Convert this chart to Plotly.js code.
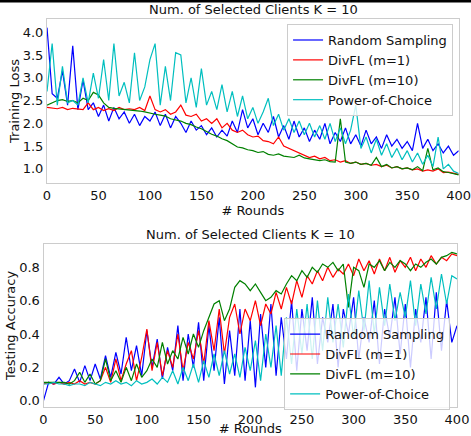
<!DOCTYPE html>
<html>
<head>
<meta charset="utf-8">
<script src="https://cdn.plot.ly/plotly-3.0.1.min.js"></script>
<style>html,body{margin:0;padding:0;background:#fff}#chart{width:471px;height:436px}</style>
</head>
<body>
<div id="chart"></div>
<script>
const rounds = [0,5,10,15,20,25,30,35,40,45,50,55,60,65,70,75,80,85,90,95,100,105,110,115,120,125,130,135,140,145,150,155,160,165,170,175,180,185,190,195,200,205,210,215,220,225,230,235,240,245,250,255,260,265,270,275,280,285,290,295,300,305,310,315,320,325,330,335,340,345,350,355,360,365,370,375,380,385,390,395,400];

const seriesNames = ["Random Sampling", "DivFL (m=1)", "DivFL (m=10)", "Power-of-Choice"];
const titleText = "Num. of Selected Clients K = 10";

// Training loss
const lossRandom = [4.10,2.65,2.55,3.15,2.40,3.70,2.30,2.95,2.30,2.45,2.15,2.40,2.05,2.35,2.10,2.25,2.00,2.20,1.95,2.15,2.05,2.25,1.95,2.20,1.90,2.15,2.00,1.80,2.05,1.85,1.95,1.75,1.90,1.70,1.85,1.72,2.05,1.80,2.30,1.90,2.10,1.75,2.00,1.80,2.15,1.70,1.95,1.65,2.05,1.70,1.90,1.60,1.85,1.65,2.00,1.55,1.80,1.60,1.90,1.55,1.75,1.50,1.85,1.55,1.70,1.45,1.75,1.50,1.65,1.45,1.60,1.40,2.00,1.45,1.65,1.40,1.55,1.35,1.50,1.30,1.40];
const lossDivFL1 = [2.35,2.33,2.32,2.35,2.30,2.33,2.32,2.30,2.45,2.30,2.35,2.28,2.32,2.28,2.35,2.30,2.32,2.30,2.35,2.28,2.60,2.30,2.25,2.30,2.20,2.25,2.40,2.18,2.15,2.20,2.05,2.10,2.00,2.10,1.90,2.00,1.85,1.80,1.85,1.75,1.70,1.72,1.62,1.60,1.55,1.70,1.50,1.45,1.40,1.35,1.30,1.25,1.28,1.22,1.25,1.18,1.20,1.15,1.18,1.12,1.15,1.10,1.12,1.08,1.10,1.05,1.08,1.02,1.05,1.00,1.02,0.98,1.00,0.95,0.98,0.95,1.00,0.92,0.93,0.90,0.88];
const lossDivFL10 = [2.40,2.45,2.50,2.52,2.48,2.50,2.45,2.55,2.50,2.68,2.62,2.45,2.35,2.33,2.32,2.30,2.30,2.28,2.27,2.25,2.22,2.20,2.18,2.16,2.10,2.08,2.05,2.00,1.97,1.92,1.88,1.82,1.76,1.72,1.66,1.62,1.55,1.48,1.46,1.42,1.40,1.36,1.38,1.32,1.30,1.33,1.28,1.27,1.25,1.30,1.24,1.22,1.20,1.18,1.20,1.16,1.15,2.10,1.15,1.12,1.15,1.10,1.12,1.08,1.25,1.05,1.10,1.02,1.05,1.00,1.02,0.98,1.05,0.96,1.45,0.98,1.02,0.94,0.92,0.90,0.87];
const lossPoC = [2.70,3.75,2.40,3.25,2.45,2.50,2.40,3.00,2.45,3.10,2.55,3.40,2.50,3.75,2.60,2.90,2.45,3.55,2.50,2.80,3.40,3.75,2.40,3.25,2.50,3.55,3.50,2.45,3.00,2.35,3.20,2.40,2.70,2.30,2.85,2.25,2.70,2.15,2.60,2.10,2.35,2.00,2.25,2.55,1.95,2.20,1.85,2.10,1.80,2.05,1.75,2.00,1.70,1.95,1.65,2.00,1.60,1.90,1.55,1.85,2.40,1.45,1.70,1.35,1.65,1.30,1.55,1.25,1.45,1.20,1.40,1.15,1.35,1.10,1.30,1.05,1.70,1.00,1.10,0.95,0.90];

// Testing accuracy
const accRandom = [0.00,0.11,0.10,0.14,0.10,0.12,0.19,0.11,0.21,0.12,0.22,0.13,0.27,0.14,0.29,0.16,0.38,0.18,0.33,0.15,0.42,0.20,0.37,0.13,0.32,0.18,0.45,0.12,0.40,0.20,0.47,0.12,0.45,0.18,0.50,0.10,0.42,0.15,0.55,0.12,0.48,0.08,0.52,0.20,0.58,0.15,0.50,0.25,0.60,0.18,0.55,0.30,0.62,0.22,0.50,0.35,0.58,0.20,0.55,0.40,0.62,0.25,0.50,0.35,0.60,0.22,0.55,0.38,0.62,0.28,0.58,0.20,0.55,0.35,0.62,0.25,0.65,0.30,0.60,0.35,0.45];
const accDivFL1 = [0.10,0.11,0.10,0.11,0.10,0.11,0.10,0.12,0.10,0.11,0.10,0.12,0.20,0.11,0.25,0.12,0.22,0.30,0.12,0.26,0.43,0.18,0.35,0.15,0.30,0.20,0.40,0.18,0.35,0.25,0.42,0.22,0.48,0.30,0.55,0.28,0.50,0.58,0.40,0.55,0.48,0.60,0.45,0.58,0.52,0.65,0.55,0.68,0.58,0.72,0.62,0.75,0.70,0.78,0.72,0.80,0.74,0.79,0.76,0.82,0.75,0.85,0.78,0.84,0.76,0.85,0.78,0.86,0.77,0.84,0.80,0.86,0.78,0.85,0.80,0.87,0.82,0.86,0.84,0.88,0.87];
const accDivFL10 = [0.11,0.11,0.11,0.11,0.11,0.10,0.12,0.17,0.11,0.16,0.10,0.12,0.25,0.12,0.18,0.11,0.20,0.12,0.22,0.14,0.18,0.25,0.20,0.35,0.22,0.30,0.25,0.38,0.28,0.40,0.32,0.42,0.50,0.58,0.60,0.48,0.55,0.68,0.72,0.70,0.66,0.70,0.65,0.60,0.62,0.66,0.64,0.70,0.75,0.72,0.78,0.74,0.80,0.77,0.82,0.80,0.83,0.78,0.82,0.56,0.80,0.78,0.68,0.82,0.80,0.84,0.78,0.83,0.80,0.84,0.82,0.78,0.82,0.80,0.83,0.85,0.82,0.86,0.87,0.89,0.88];
const accPoC = [0.10,0.10,0.11,0.10,0.10,0.09,0.10,0.10,0.09,0.11,0.10,0.09,0.11,0.10,0.12,0.10,0.11,0.09,0.12,0.10,0.11,0.13,0.10,0.14,0.11,0.18,0.10,0.20,0.12,0.22,0.11,0.24,0.14,0.28,0.15,0.30,0.16,0.28,0.14,0.32,0.18,0.36,0.12,0.40,0.20,0.45,0.15,0.50,0.22,0.55,0.28,0.58,0.25,0.60,0.30,0.62,0.35,0.58,0.32,0.64,0.38,0.66,0.42,0.72,0.40,0.68,0.45,0.70,0.48,0.65,0.50,0.72,0.45,0.70,0.52,0.74,0.55,0.76,0.58,0.75,0.73];

const colors = ["#0000ff", "#ff0000", "#008000", "#00bfbf"];
const lossSeries = [lossRandom, lossDivFL1, lossDivFL10, lossPoC];
const accSeries = [accRandom, accDivFL1, accDivFL10, accPoC];

const FONT = "DejaVu Sans, sans-serif";
const TXT = "#111";
const traces = [];
lossSeries.forEach((ys, i) => traces.push({
  x: rounds, y: ys, type: "scatter", mode: "lines", name: seriesNames[i],
  line: {color: colors[i], width: 1.2}, xaxis: "x", yaxis: "y", legend: "legend"
}));
accSeries.forEach((ys, i) => traces.push({
  x: rounds, y: ys, type: "scatter", mode: "lines", name: seriesNames[i],
  line: {color: colors[i], width: 1.2}, xaxis: "x2", yaxis: "y2", legend: "legend2"
}));

const axisCommon = {
  showgrid: false, zeroline: false, showline: true, mirror: true,
  linecolor: "#cccccc", linewidth: 1, ticks: "", ticklabeloverflow: "allow",
  tickfont: {family: FONT, size: 13, color: TXT}
};
const legendCommon = {
  bgcolor: "rgba(255,255,255,0.8)", bordercolor: "#cccccc", borderwidth: 1,
  font: {family: FONT, size: 13, color: TXT}, xanchor: "right", yanchor: "top",
  tracegroupgap: 0
};

const layout = {
  width: 471, height: 436,
  margin: {l: 43, r: 10, t: 19, b: 29},
  paper_bgcolor: "#fff", plot_bgcolor: "#fff",
  font: {family: FONT, size: 13, color: TXT},
  showlegend: true,
  xaxis: Object.assign({}, axisCommon, {domain: [0.0096, 0.9945], range: [0, 400], anchor: "y",
    tickvals: [0,50,100,150,200,250,300,350,400],
    title: {text: "# Rounds", font: {family: FONT, size: 13, color: TXT}, standoff: 0}}),
  yaxis: Object.assign({}, axisCommon, {domain: [0.5773, 1], range: [0.69, 4.29], anchor: "x",
    tickvals: [1.0,1.5,2.0,2.5,3.0,3.5,4.0], tickformat: ".1f",
    title: {text: "Training Loss", font: {family: FONT, size: 13, color: TXT}, standoff: 0}}),
  xaxis2: Object.assign({}, axisCommon, {domain: [0.0012, 0.9904], range: [0, 400], anchor: "y2",
    tickvals: [0,50,100,150,200,250,300,350,400],
    title: {text: "# Rounds", font: {family: FONT, size: 13, color: TXT}, standoff: 0}}),
  yaxis2: Object.assign({}, axisCommon, {domain: [0, 0.4201], range: [-0.038, 0.94], anchor: "x2",
    tickvals: [0.0,0.2,0.4,0.6,0.8], tickformat: ".1f",
    title: {text: "Testing Accuracy", font: {family: FONT, size: 13, color: TXT}, standoff: 0}}),
  legend: Object.assign({}, legendCommon, {x: 0.981, y: 0.987}),
  legend2: Object.assign({}, legendCommon, {x: 0.974, y: 0.229}),
  annotations: [
    {text: titleText, xref: "paper", yref: "paper", x: 0.5036, y: 1, xanchor: "center", yanchor: "bottom",
     showarrow: false, font: {family: FONT, size: 13, color: TXT}},
    {text: titleText, xref: "paper", yref: "paper", x: 0.4958, y: 0.4201, xanchor: "center", yanchor: "bottom",
     showarrow: false, font: {family: FONT, size: 13, color: TXT}}
  ],
  shapes: [
    {type: "rect", xref: "paper", yref: "paper", x0: -0.11, x1: 1.03, y0: 1.0425, y1: 1.06,
     fillcolor: "#000", line: {width: 0}}
  ]
};

Plotly.newPlot("chart", traces, layout, {displayModeBar: false, staticPlot: true});
</script>
</body>
</html>
